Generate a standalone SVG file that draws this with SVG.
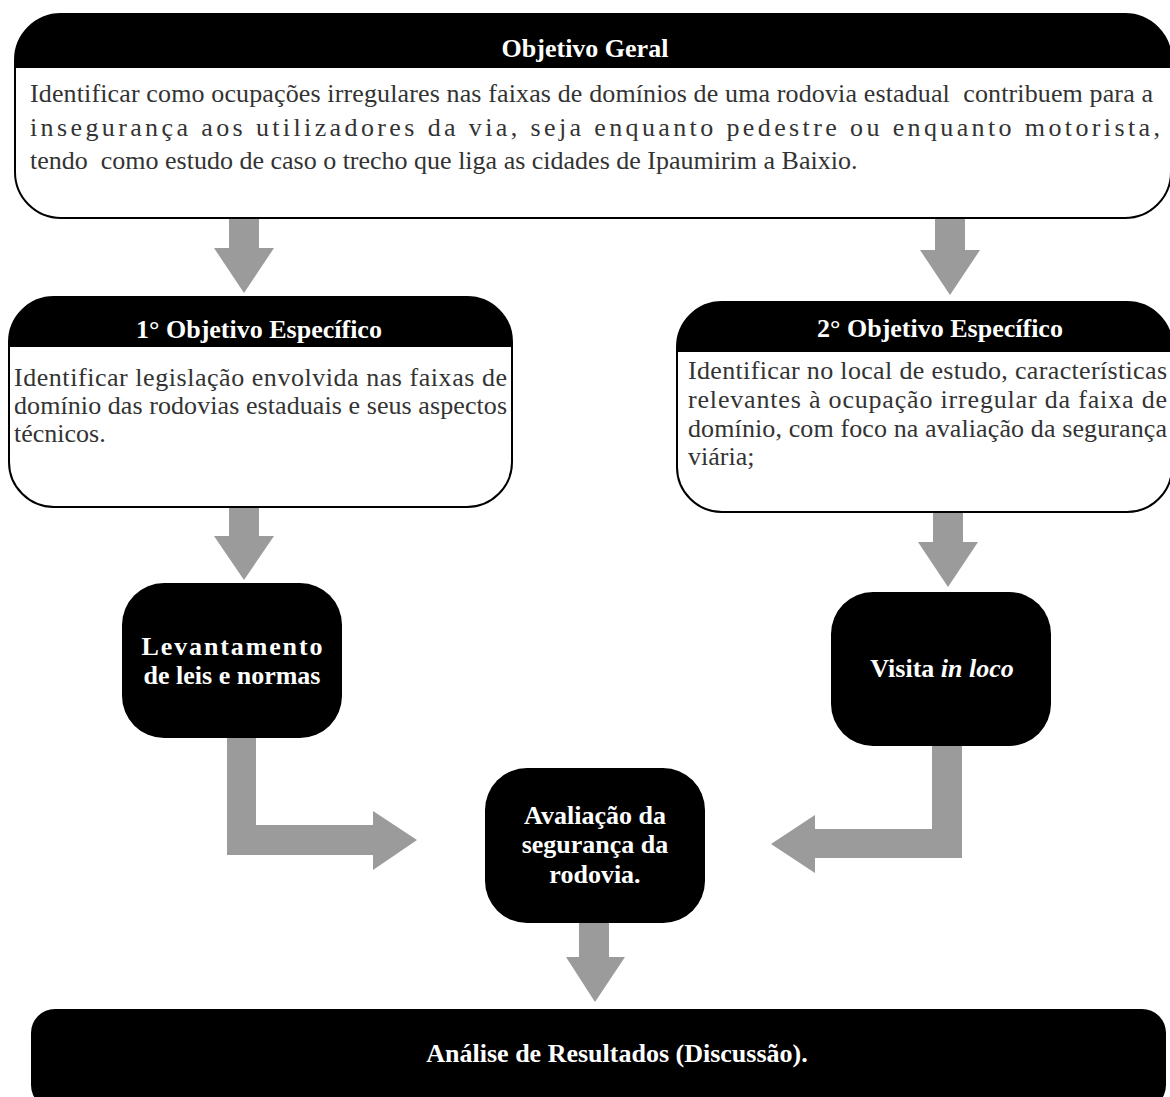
<svg xmlns="http://www.w3.org/2000/svg" width="1170" height="1097" viewBox="0 0 1170 1097">
<style>
.hdr{font-family:"Liberation Serif","Times New Roman",serif;font-weight:bold;font-size:26px;fill:#fff;text-anchor:middle}
.txt{font-family:"Liberation Serif","Times New Roman",serif;font-size:26px;fill:#333;white-space:pre}
.bw{font-family:"Liberation Serif","Times New Roman",serif;font-weight:bold;font-size:26px;fill:#fff;text-anchor:middle}
.frame{fill:none;stroke:#000;stroke-width:2}
.white{fill:#fff}
.blk{fill:#000}
.arrow{fill:#9b9b9b}
</style>
<defs>
<clipPath id="cTop"><rect x="15" y="14" width="1156" height="204" rx="46"/></clipPath>
<clipPath id="cObj1"><rect x="9" y="297" width="503" height="210" rx="45"/></clipPath>
<clipPath id="cObj2"><rect x="677" y="302" width="495" height="210" rx="45"/></clipPath>
</defs>
<rect x="0" y="0" width="1170" height="1097" fill="#fff"/>

<g id="connectors">
<polygon class="arrow" points="229,218 259,218 259,248 274,248 244,293 214,248 229,248"/>
<polygon class="arrow" points="935,218 965,218 965,250 980,250 950,295 920,250 935,250"/>
<polygon class="arrow" points="229,507 259,507 259,536 274,536 244,580 214,536 229,536"/>
<polygon class="arrow" points="933,512 963,512 963,542 978,542 948,587 918,542 933,542"/>
<polygon class="arrow" points="227,738 256,738 256,825 373,825 373,811 417,840 373,870 373,855 227,855"/>
<polygon class="arrow" points="932,745 962,745 962,858 815,858 815,873 771,844 815,815 815,829 932,829"/>
<polygon class="arrow" points="579,923 609,923 609,957 625,957 595,1002 566,957 579,957"/>
</g>

<g id="objetivo-geral">
<rect class="white" x="15" y="14" width="1156" height="204" rx="46"/>
<rect class="blk" x="15" y="14" width="1156" height="54" clip-path="url(#cTop)"/>
<rect class="frame" x="15" y="14" width="1156" height="204" rx="46"/>
<text class="hdr" x="585" y="57">Objetivo Geral</text>
<text class="txt" x="30" y="102" textLength="1123" lengthAdjust="spacing">Identificar como ocupações irregulares nas faixas de domínios de uma rodovia estadual  contribuem para a</text>
<text class="txt" x="30" y="136" textLength="1130" lengthAdjust="spacing">insegurança aos utilizadores da via, seja enquanto pedestre ou enquanto motorista,</text>
<text class="txt" x="30" y="169">tendo  como estudo de caso o trecho que liga as cidades de Ipaumirim a Baixio.</text>
</g>

<g id="objetivo-especifico-1">
<rect class="white" x="9" y="297" width="503" height="210" rx="45"/>
<rect class="blk" x="9" y="297" width="503" height="50" clip-path="url(#cObj1)"/>
<rect class="frame" x="9" y="297" width="503" height="210" rx="45"/>
<text class="hdr" x="259" y="338">1° Objetivo Específico</text>
<text class="txt" x="14" y="386" textLength="493" lengthAdjust="spacing">Identificar legislação envolvida nas faixas de</text>
<text class="txt" x="14" y="414" textLength="493" lengthAdjust="spacing">domínio das rodovias estaduais e seus aspectos</text>
<text class="txt" x="14" y="442">técnicos.</text>
</g>

<g id="objetivo-especifico-2">
<rect class="white" x="677" y="302" width="495" height="210" rx="45"/>
<rect class="blk" x="677" y="302" width="495" height="50" clip-path="url(#cObj2)"/>
<rect class="frame" x="677" y="302" width="495" height="210" rx="45"/>
<text class="hdr" x="940" y="337">2° Objetivo Específico</text>
<text class="txt" x="688" y="379" textLength="479" lengthAdjust="spacing">Identificar no local de estudo, características</text>
<text class="txt" x="688" y="408" textLength="479" lengthAdjust="spacing">relevantes à ocupação irregular da faixa de</text>
<text class="txt" x="688" y="437" textLength="479" lengthAdjust="spacing">domínio, com foco na avaliação da segurança</text>
<text class="txt" x="688" y="465">viária;</text>
</g>

<g id="levantamento">
<rect class="blk" x="122" y="583" width="220" height="155" rx="42"/>
<text class="bw" x="232" y="655" textLength="181" lengthAdjust="spacing">Levantamento</text>
<text class="bw" x="232" y="684">de leis e normas</text>
</g>

<g id="visita">
<rect class="blk" x="831" y="592" width="220" height="154" rx="42"/>
<text class="bw" x="942" y="677">Visita <tspan font-style="italic">in loco</tspan></text>
</g>

<g id="avaliacao">
<rect class="blk" x="485" y="768" width="220" height="155" rx="42"/>
<text class="bw" x="595" y="824">Avaliação da</text>
<text class="bw" x="595" y="853">segurança da</text>
<text class="bw" x="595" y="883">rodovia.</text>
</g>

<g id="analise">
<rect class="blk" x="31" y="1009" width="1135" height="100" rx="24"/>
<text class="bw" x="617" y="1062">Análise de Resultados (Discussão).</text>
</g>
</svg>
